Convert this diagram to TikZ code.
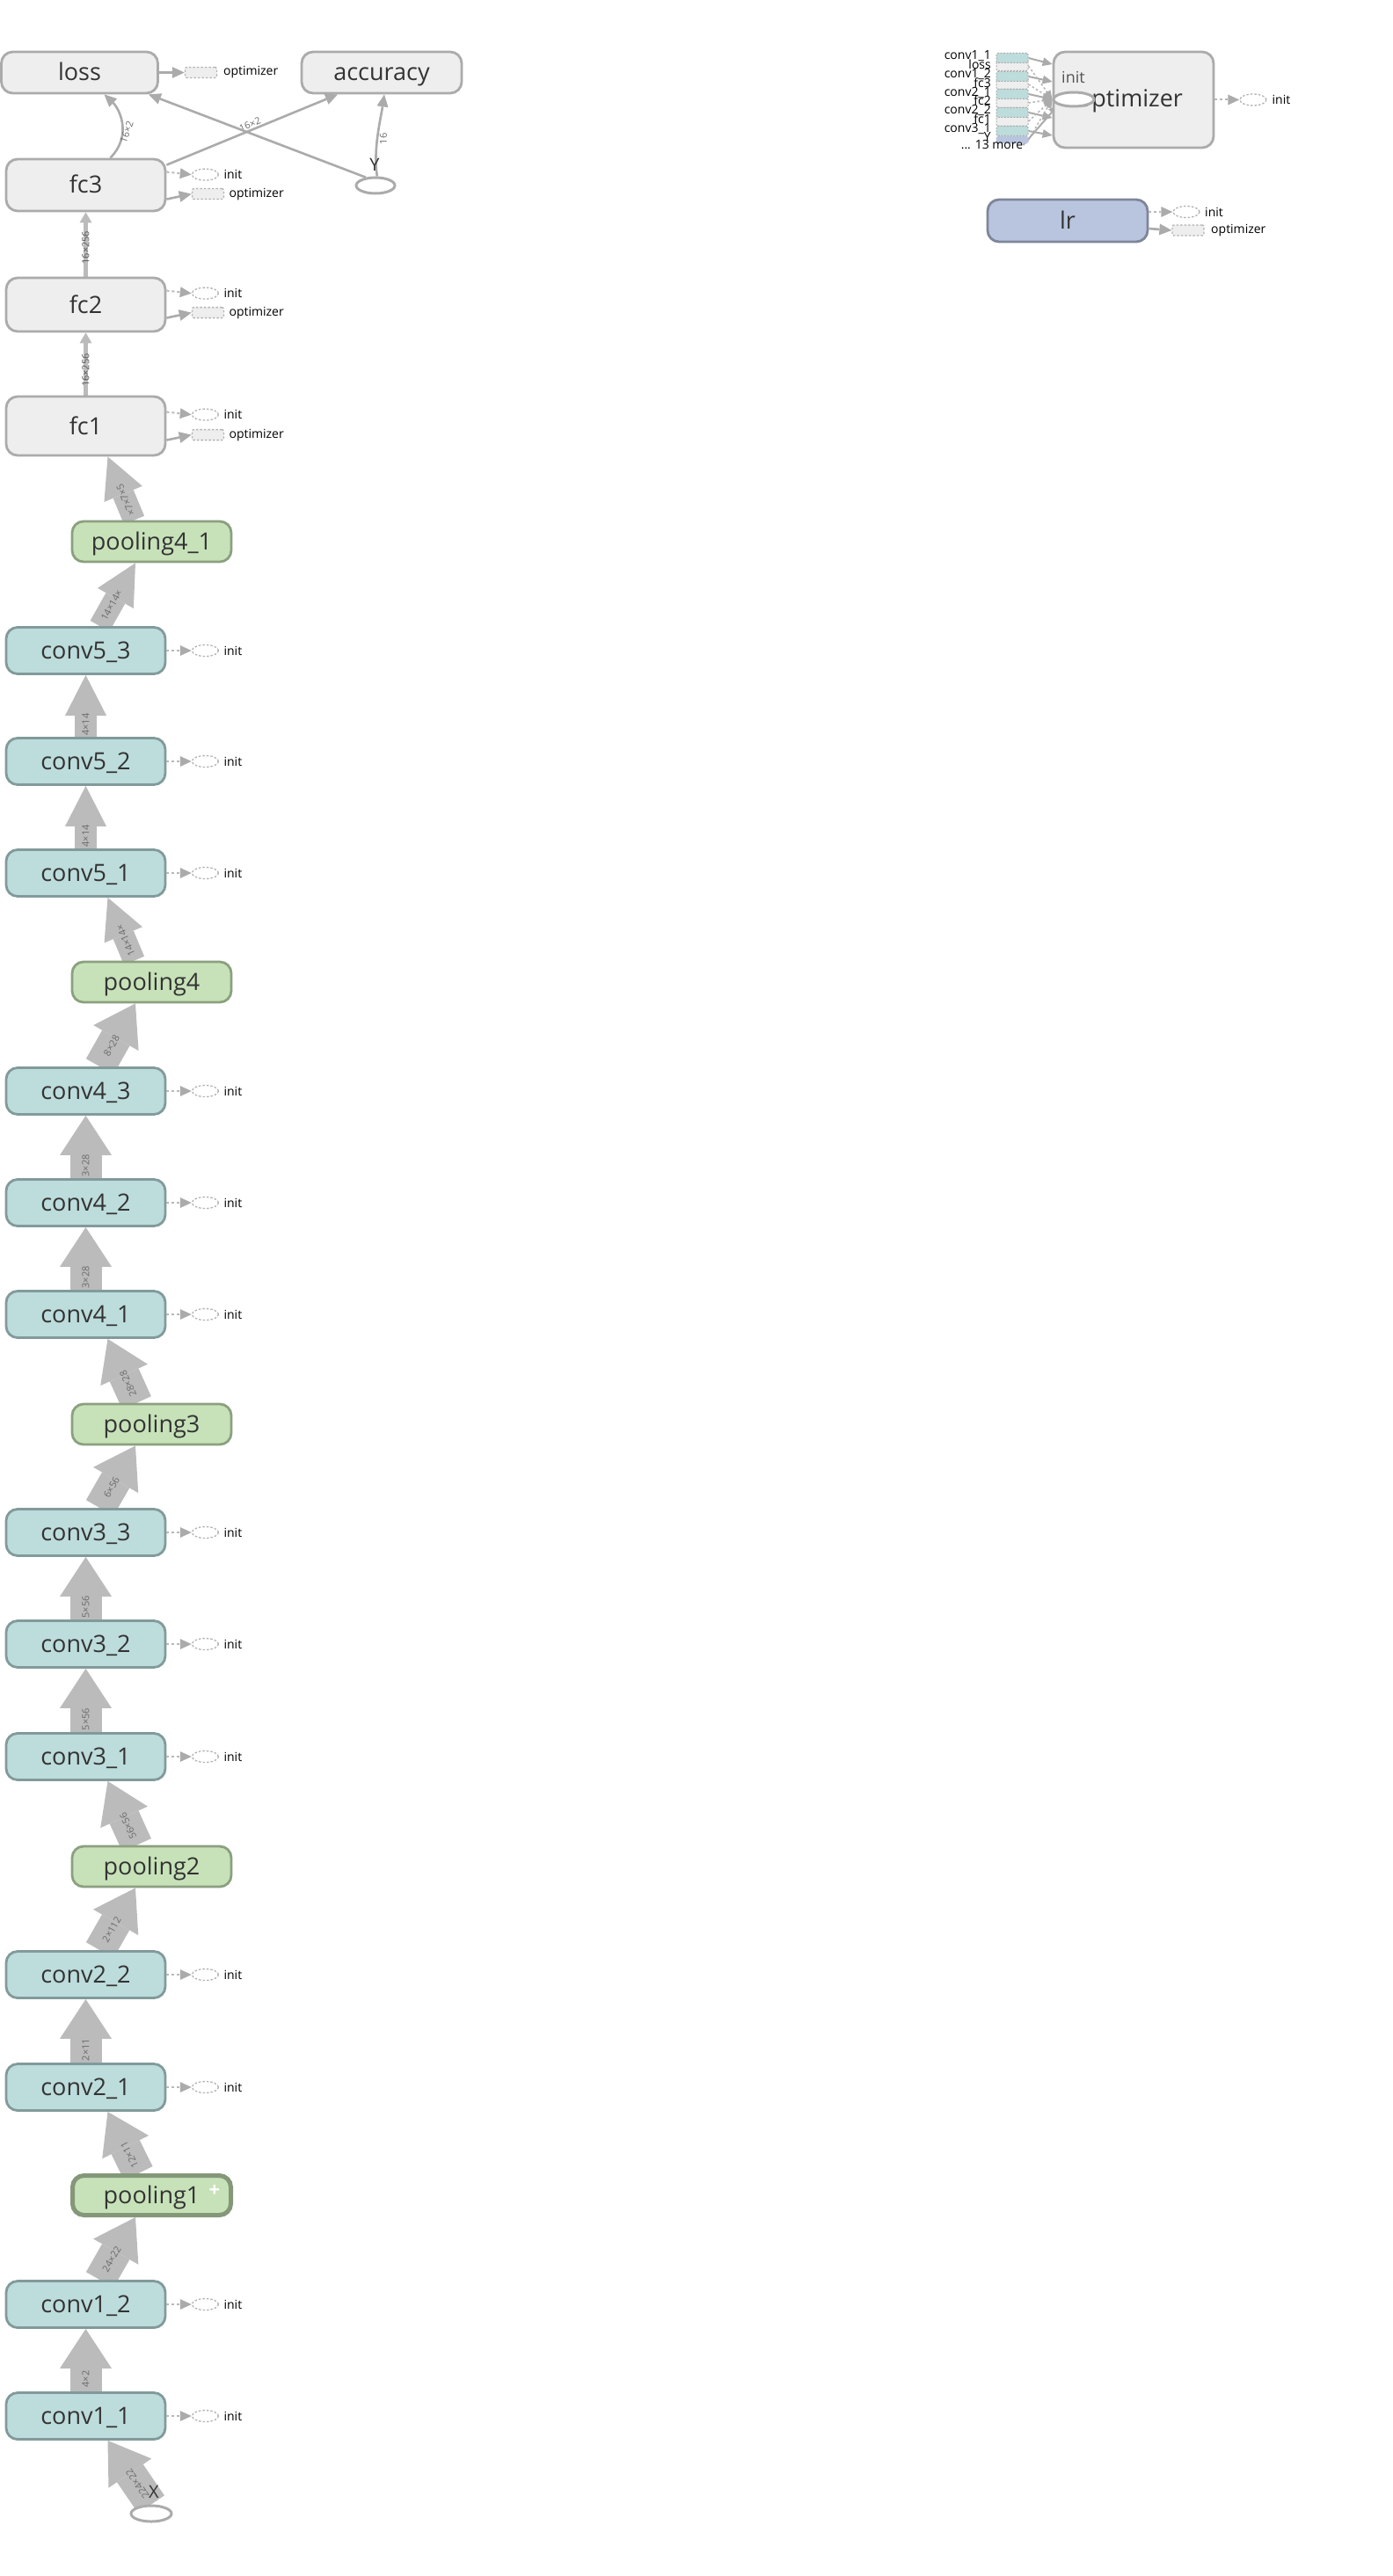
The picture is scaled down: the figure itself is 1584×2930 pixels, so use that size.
\documentclass[tikz,border=0pt]{standalone}
\usepackage{fontspec}
\setmainfont{Open Sans}
\usetikzlibrary{arrows.meta,shapes.geometric,calc}
\pgfdeclarelayer{bg}
\pgfsetlayers{bg,main}
\definecolor{convfill}{HTML}{BDDCDC}
\definecolor{convdraw}{HTML}{829A9A}
\definecolor{poolfill}{HTML}{C7E2B9}
\definecolor{pooldraw}{HTML}{8BA07F}
\definecolor{greyfill}{HTML}{EEEEEE}
\definecolor{greydraw}{HTML}{ABABAB}
\definecolor{lrfill}{HTML}{B9C5DE}
\definecolor{lrdraw}{HTML}{7E8699}
\definecolor{edgec}{HTML}{BBBBBB}
\definecolor{txt}{HTML}{333333}
\definecolor{lbl}{HTML}{6A6A6A}
\tikzset{
  nbox/.style={rectangle, rounded corners=13pt, line width=2.8pt, minimum width=181pt,
    minimum height=53pt, inner sep=0pt, text=txt, font=\fontsize{27}{30}\selectfont,
    text height=24pt, text depth=5pt},
  conv/.style={nbox, fill=convfill, draw=convdraw},
  pool/.style={nbox, fill=poolfill, draw=pooldraw, minimum height=46pt},
  gbox/.style={nbox, fill=greyfill, draw=greydraw},
  fatedge/.style={draw=edgec, line width=36pt, -{Triangle[width=59pt,length=45pt,line width=0pt]}},
  fatS/.style={draw=edgec, line width=25pt, -{Triangle[width=47pt,length=46pt,line width=0pt]}},
  fcedge/.style={draw=edgec, line width=5pt, -{Triangle[width=14pt,length=12pt,line width=0pt]}},
  elbl/.style={font=\fontsize{11}{11}\selectfont, text=lbl, inner sep=0pt},
  thinarr/.style={draw=greydraw, line width=2.6pt, -{Triangle[width=13pt,length=14pt,line width=0pt]}},
  thinsm/.style={draw=greydraw, line width=2pt, -{Triangle[width=10pt,length=11pt,line width=0pt]}},
  dotarr/.style={draw=greydraw!85, line width=2pt, dash pattern=on 3pt off 3pt,
    -{Triangle[width=12pt,length=13pt,line width=0pt,fill=greydraw]}},
  dotsm/.style={draw=greydraw!85, line width=1.6pt, dash pattern=on 2.5pt off 2.5pt,
    -{Triangle[width=9pt,length=10pt,line width=0pt,fill=greydraw]}},
  initel/.style={ellipse, draw=greydraw!90, dash pattern=on 2.5pt off 2pt, line width=1.3pt,
    minimum width=30pt, minimum height=13pt, inner sep=0pt, fill=white},
  optbx/.style={rectangle, draw=greydraw!90, dash pattern=on 2.5pt off 2pt, fill=greyfill,
    line width=1.3pt, minimum width=36pt, minimum height=12pt, rounded corners=2pt, inner sep=0pt},
  sbox/.style={rectangle, draw=greydraw, dash pattern=on 2pt off 1.5pt, line width=1pt,
    minimum width=36pt, minimum height=11pt, inner sep=0pt, rounded corners=1.5pt},
  smalltxt/.style={font=\fontsize{14}{14}\selectfont, anchor=west, inner sep=0pt, text=black},
  rlbl/.style={font=\fontsize{14}{14}\selectfont, anchor=east, inner sep=0pt, text=black},
  oval/.style={ellipse, draw=greydraw, line width=3pt, fill=white, minimum width=46pt,
    minimum height=18pt, inner sep=0pt},
}
\newcommand\cinit[1]{%
  \node[initel] (#1-i) at ($(#1.east)+(44,0)$) {};
  \node[smalltxt] (#1-t) at ($(#1.east)+(65,0)$) {init};
  \draw[dotarr] (#1.east) -- (#1-i.west);}
\newcommand\fcout[3]{%
  \node[initel] (#1-i) at ($(#1.north east)+(44,#2)$) {};
  \node[smalltxt] (#1-t) at ($(#1.north east)+(65,#2)$) {init};
  \node[optbx] (#1-o) at ($(#1.north east)+(47,#3)$) {};
  \node[smalltxt] (#1-ot) at ($(#1.north east)+(71,#3)$) {optimizer};
  \draw[dotarr] ($(#1.north east)+(0,#2-3)$) -- (#1-i.west);
  \draw[thinarr] ($(#1.north east)+(0,#3+6)$) -- (#1-o.west);}
\begin{document}
\begin{tikzpicture}[x=1pt,y=-1pt]
\useasboundingbox (0,0) rectangle (1584,2930);
% ---------- main column ----------
\node[gbox, minimum width=178pt, minimum height=47pt] (loss) at (90.5,82.5) {loss};
\node[gbox, minimum width=182pt, minimum height=47pt] (accuracy) at (434,82.5) {accuracy};
\node[gbox, minimum height=59pt] (fc3) at (97.5,210.5) {fc3};
\node[gbox, minimum height=61pt] (fc2) at (97.5,346.5) {fc2};
\node[gbox, minimum height=67pt] (fc1) at (97.5,484.5) {fc1};
\node[pool] (pooling4_1) at (172.5,616) {pooling4\_1};
\node[conv] (conv5_3) at (97.5,740) {conv5\_3};
\node[conv] (conv5_2) at (97.5,866) {conv5\_2};
\node[conv] (conv5_1) at (97.5,993) {conv5\_1};
\node[pool] (pooling4) at (172.5,1117) {pooling4};
\node[conv] (conv4_3) at (97.5,1241) {conv4\_3};
\node[conv] (conv4_2) at (97.5,1368) {conv4\_2};
\node[conv] (conv4_1) at (97.5,1495) {conv4\_1};
\node[pool] (pooling3) at (172.5,1620) {pooling3};
\node[conv] (conv3_3) at (97.5,1743) {conv3\_3};
\node[conv] (conv3_2) at (97.5,1870) {conv3\_2};
\node[conv] (conv3_1) at (97.5,1998) {conv3\_1};
\node[pool] (pooling2) at (172.5,2123) {pooling2};
\node[conv] (conv2_2) at (97.5,2246) {conv2\_2};
\node[conv] (conv2_1) at (97.5,2374) {conv2\_1};
\node[pool, line width=5pt, draw=pooldraw!95!black, minimum width=180pt, minimum height=45pt] (pooling1) at (172.5,2497) {pooling1};
\node[text=white, font=\fontsize{22}{22}\selectfont\bfseries, inner sep=0pt] (plus) at (244,2492) {+};
\node[conv] (conv1_2) at (97.5,2621) {conv1\_2};
\node[conv] (conv1_1) at (97.5,2748) {conv1\_1};
\node[oval] (X) at (172,2859) {};
\node[font=\fontsize{20}{20}\selectfont, text=txt, inner sep=0pt] (Xl) at (175,2834) {X};
\node[oval, minimum width=44pt] (Y) at (427,211) {};
\node[font=\fontsize{20}{20}\selectfont, text=txt, inner sep=0pt] (Yl) at (426,187) {Y};

% init side nodes for convs
\cinit{conv5_3}\cinit{conv5_2}\cinit{conv5_1}
\cinit{conv4_3}\cinit{conv4_2}\cinit{conv4_1}
\cinit{conv3_3}\cinit{conv3_2}\cinit{conv3_1}
\cinit{conv2_2}\cinit{conv2_1}
\cinit{conv1_2}\cinit{conv1_1}
\fcout{fc3}{19}{41}
\fcout{fc2}{19}{41}
\fcout{fc1}{22}{45}
% loss output
\node[optbx] (loss-o) at ($(loss.east)+(47.5,0)$) {};
\node[smalltxt] (loss-ot) at ($(loss.east)+(73,0)$) {optimizer};
\draw[thinarr] (loss.east) -- (loss-o.west);

% ---------- right cluster ----------
\node[gbox, minimum width=182pt, minimum height=109pt] (optimizer) at (1289,113.5) {};
\node[text=txt, font=\fontsize{27}{30}\selectfont, inner sep=0pt] (optlbl) at (1285,115) {optimizer};
\node[font=\fontsize{18}{18}\selectfont, text=txt!85, anchor=west, inner sep=0pt] (optinit) at (1207,88) {init};
\node[oval, minimum width=46pt, minimum height=16pt] (optel) at (1221,113) {};
\node[initel] (opt-i) at ($(optimizer.east)+(43.5,0)$) {};
\node[smalltxt] (opt-t) at ($(optimizer.east)+(65,0)$) {init};
\draw[dotarr] (optimizer.east) -- (opt-i.west);

% input stubs
\node[sbox, fill=greyfill] (g1) at (1151,75) {};
\node[sbox, fill=greyfill] (g2) at (1151,96) {};
\node[sbox, fill=greyfill] (g3) at (1151,117) {};
\node[sbox, fill=greyfill] (g4) at (1151,138) {};
\node[sbox, fill=lrfill, draw=lrfill, minimum height=8pt] (b1) at (1151,159) {};
\node[sbox, fill=convfill] (t1) at (1151,66) {};
\node[sbox, fill=convfill] (t2) at (1151,87) {};
\node[sbox, fill=convfill] (t3) at (1151,107) {};
\node[sbox, fill=convfill] (t4) at (1151,128) {};
\node[sbox, fill=convfill] (t5) at (1151,149) {};
\node[rlbl] (lt1) at (1127,64) {conv1\_1};
\node[rlbl] (lg1) at (1127,73) {loss};
\node[rlbl] (lt2) at (1127,85) {conv1\_2};
\node[rlbl] (lg2) at (1127,94) {fc3};
\node[rlbl] (lt3) at (1127,106) {conv2\_1};
\node[rlbl] (lg3) at (1127,114) {fc2};
\node[rlbl] (lt4) at (1127,126) {conv2\_2};
\node[rlbl] (lg4) at (1127,135) {fc1};
\node[rlbl] (lt5) at (1127,147) {conv3\_1};
\node[rlbl] (lg5) at (1127,156) {Y};
\node[font=\fontsize{14}{14}\selectfont, inner sep=0pt] (more) at (1128,165) {... 13 more};

% lr
\node[nbox, fill=lrfill, draw=lrdraw, minimum width=182pt, minimum height=48pt] (lr) at (1214,251) {lr};
\node[initel] (lr-i) at (1349,241) {};
\node[smalltxt] (lr-t) at (1370,241) {init};
\node[optbx] (lr-o) at (1351,262) {};
\node[smalltxt] (lr-ot) at (1377,262) {optimizer};
\draw[dotarr] ($(lr.east)+(0,-10)$) -- (lr-i.west);
\draw[thinarr] ($(lr.east)+(0,9)$) -- (lr-o.west);

% ---------- edges (background) ----------
\begin{pgfonlayer}{bg}
% top area
\draw[thinarr] ($(fc3.north)+(28,0)$) .. controls (152,152) and (134,122) .. ($(loss.south)+(28,0)$);
\node[elbl, rotate=70] (l-fcloss) at (144,150) {16×2};
\draw[thinarr] ($(fc3.north east)+(0,8)$) -- ($(accuracy.south)+(-50,0)$)
   node[elbl, sloped, pos=0.5, above=1pt] (l-fcacc) {16×2};
\draw[thinarr] (Y.140) -- ($(loss.south east)+(-12,0)$);
\draw[thinarr] (Y.80) .. controls (424,170) and (433,135) .. ($(accuracy.south)+(3,0)$);
\node[elbl, rotate=90] (l-yacc) at (436,158) {16};
\draw[fcedge] (fc2.north) -- (fc3.south) node[elbl, pos=0.45, rotate=90, text=lbl!80!black] {16×256};
\draw[fcedge] (fc1.north) -- (fc2.south) node[elbl, pos=0.4, rotate=90, text=lbl!80!black] {16×256};
% fat tensor edges
\draw[fatS] ($(pooling4_1.north)+(-20,0)$) -- ($(fc1.south)+(25,0)$)
   node[elbl, sloped, allow upside down, pos=0.32] {×7×7×5};
\draw[fatS] ($(conv5_3.north)+(16,0)$) -- ($(pooling4_1.south)+(-18.5,0)$)
   node[elbl, sloped, pos=0.33] {14×14×};
\draw[fatS] (conv5_2.north) -- (conv5_3.south) node[elbl, pos=0.2, rotate=90] {4×14};
\draw[fatS] (conv5_1.north) -- (conv5_2.south) node[elbl, pos=0.2, rotate=90] {4×14};
\draw[fatS] ($(pooling4.north)+(-20,0)$) -- ($(conv5_1.south)+(25,0)$)
   node[elbl, sloped, allow upside down, pos=0.32] {14×14×};
\draw[fatedge] ($(conv4_3.north)+(16,0)$) -- ($(pooling4.south)+(-18.5,0)$)
   node[elbl, sloped, pos=0.33] {8×28};
\draw[fatedge] (conv4_2.north) -- (conv4_3.south) node[elbl, pos=0.2, rotate=90] {3×28};
\draw[fatedge] (conv4_1.north) -- (conv4_2.south) node[elbl, pos=0.2, rotate=90] {3×28};
\draw[fatedge] ($(pooling3.north)+(-17,0)$) -- ($(conv4_1.south)+(25,0)$)
   node[elbl, sloped, allow upside down, pos=0.3] {28×28};
\draw[fatedge] ($(conv3_3.north)+(16,0)$) -- ($(pooling3.south)+(-18.5,0)$)
   node[elbl, sloped, pos=0.33] {6×56};
\draw[fatedge] (conv3_2.north) -- (conv3_3.south) node[elbl, pos=0.2, rotate=90] {5×56};
\draw[fatedge] (conv3_1.north) -- (conv3_2.south) node[elbl, pos=0.2, rotate=90] {5×56};
\draw[fatedge] ($(pooling2.north)+(-17,0)$) -- ($(conv3_1.south)+(25,0)$)
   node[elbl, sloped, allow upside down, pos=0.3] {56×56};
\draw[fatedge] ($(conv2_2.north)+(16,0)$) -- ($(pooling2.south)+(-18.5,0)$)
   node[elbl, sloped, pos=0.33] {2×112};
\draw[fatedge] (conv2_1.north) -- (conv2_2.south) node[elbl, pos=0.2, rotate=90] {2×11};
\draw[fatedge] ($(pooling1.north)+(-15,0)$) -- ($(conv2_1.south)+(25,0)$)
   node[elbl, sloped, allow upside down, pos=0.3] {12×11};
\draw[fatedge] ($(conv1_2.north)+(16,0)$) -- ($(pooling1.south)+(-18.5,0)$)
   node[elbl, sloped, pos=0.33] {24×22};
\draw[fatedge] (conv1_1.north) -- (conv1_2.south) node[elbl, pos=0.2, rotate=90] {4×2};
\draw[fatedge] (X.north) -- ($(conv1_1.south)+(25,0)$)
   node[elbl, sloped, allow upside down, pos=0.32] {224×22};
% optimizer inputs
\draw[thinsm] (t1.east) -- ($(optimizer.west)+(0,-40.5)$);
\draw[thinsm] (t2.east) -- ($(optimizer.west)+(0,-20.5)$);
\draw[thinsm] (t3.east) -- ($(optimizer.west)+(0,-0.5)$);
\draw[thinsm] (t4.east) -- ($(optimizer.west)+(0,20.5)$);
\draw[thinsm] (t5.east) -- ($(optimizer.west)+(0,40.5)$);
\draw[dotsm] (g1.east) -- (optel.west);
\draw[dotsm] (g2.east) -- (optel.west);
\draw[dotsm] (g3.east) -- (optel.west);
\draw[dotsm] (g4.east) -- (optel.west);
\draw[dotsm] (b1.east) -- (optel.west);
\draw[thinsm] (more.east) -- (optel.200);
\end{pgfonlayer}
\end{tikzpicture}
\end{document}
